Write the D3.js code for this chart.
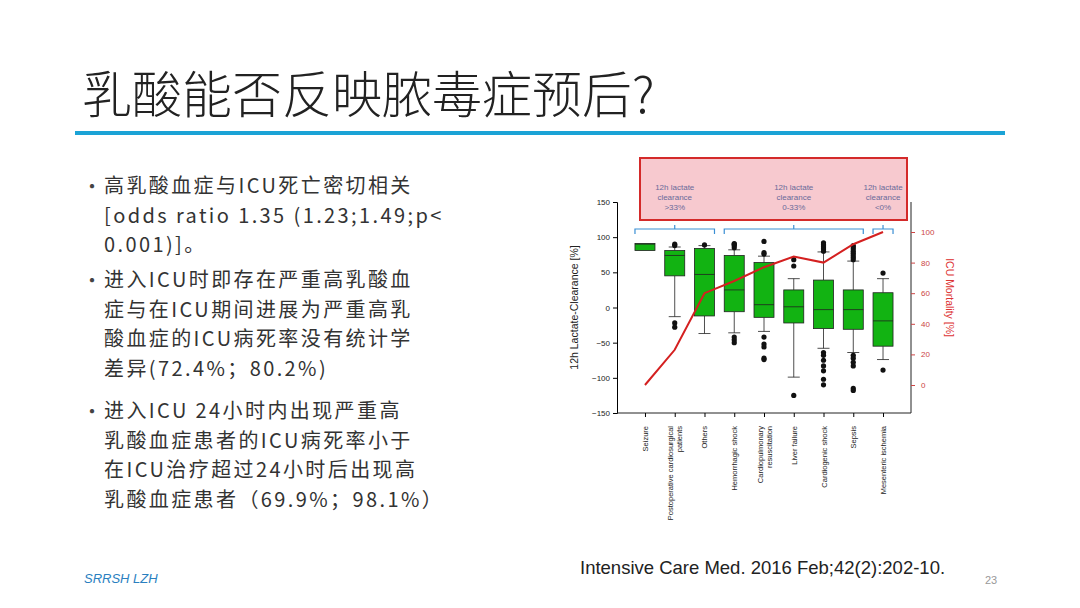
<!DOCTYPE html><html><head><meta charset="utf-8">
<script src="https://cdn.jsdelivr.net/npm/d3@7"></script>
<style>body{margin:0;background:#fff}</style></head><body>
<svg id="s" width="1080" height="608"></svg>
<script>
const categories=["Seizure","Postoperative cardiosurgical|patients","Others","Hemorrhagic shock","Cardiopulmonary|resuscitation","Liver failure","Cardiogenic shock","Sepsis","Mesenteric ischemia"];
const q1=[81,45,-12,-6,-14,-22,-30,-31,-55];
const med=[90,74,47,25,4,1,-3,-3,-19];
const q3=[91,81,84,74,64,25,39,25,21];
const whiskLo=[null,-13,-37,-36,-34,-99,-58,-64,-74];
const whiskHi=[null,86,88,82,73,41,79,66,41];
const outliers=[[],[88,90,-22,-28],[89],[85,88,90,91,-42,-46,-50],[76,78,94,-42,-52,-56,-72,-74],[59,68,-125],[80,83,86,89,92,-64,-68,-75,-83,-90,-102,-110],[68,71,74,77,80,83,86,88,-68,-72,-78,-83,-115,-118],[49,-89]];
const mortality=[0,23,60,68,77,84,80,92,100];
const leftTicks=[-150,-100,-50,0,50,100,150];
const rightTicks=[0,20,40,60,80,100];
const groups=[{t:["12h lactate","clearance",">33%"],a:0,b:2},{t:["12h lactate","clearance","0-33%"],a:3,b:7},{t:["12h lactate","clearance","<0%"],a:8,b:8}];
const bullets=[["高乳酸血症与ICU死亡密切相关","[odds ratio 1.35 (1.23;1.49;p<","0.001)]。"],["进入ICU时即存在严重高乳酸血","症与在ICU期间进展为严重高乳","酸血症的ICU病死率没有统计学","差异(72.4%；80.2%)"],["进入ICU 24小时内出现严重高","乳酸血症患者的ICU病死率小于","在ICU治疗超过24小时后出现高","乳酸血症患者（69.9%；98.1%）"]];

const svg=d3.select("#s");
const F="'Noto Sans CJK SC','Noto Sans',sans-serif";
svg.append("text").attr("x",82).attr("y",113).attr("font-family",F).attr("font-weight",300).attr("font-size",50).attr("fill","#222").text("乳酸能否反映脓毒症预后?");
svg.append("rect").attr("x",75).attr("y",131).attr("width",930).attr("height",4).attr("fill","#1ba3d6");
const starts=[185,279,410];
bullets.forEach((b,i)=>{const y=starts[i];
 svg.append("text").attr("x",82).attr("y",y+9).attr("font-size",20).attr("fill","#444").attr("font-family",F).text("•");
 b.forEach((l,j)=>svg.append("text").attr("x",104).attr("y",y+8+j*29.5).attr("font-family",F).attr("font-size",20).attr("letter-spacing",2.4).attr("fill","#333").text(l));});
svg.append("text").attr("x",84).attr("y",583).attr("font-family","Liberation Sans,Arial").attr("font-style","italic").attr("font-size",13).attr("fill","#2a7fbf").text("SRRSH LZH");
svg.append("text").attr("x",580).attr("y",574).attr("font-family","Liberation Sans,Arial").attr("font-size",18.5).attr("fill","#222").text("Intensive Care Med. 2016 Feb;42(2):202-10.");
svg.append("text").attr("x",985).attr("y",584).attr("font-family","Liberation Sans,Arial").attr("font-size",11).attr("fill","#999").text("23");

const L=617,R=911,T=202,B=413;
const x=d3.scalePoint().domain(categories).range([L,R]).padding(0.94);
const yl=d3.scaleLinear().domain([-150,150]).range([B,T]);
const yr=d3.scaleLinear().domain([0,100]).range([385,232]);
const AF="Liberation Sans,Arial";
svg.append("rect").attr("x",640).attr("y",158).attr("width",267).attr("height",62).attr("fill","#f7c9cf").attr("stroke","#d42a2a").attr("stroke-width",2);
const ax=svg.append("g").attr("transform",`translate(${L},0)`).call(d3.axisLeft(yl).tickValues(leftTicks).tickSize(4));
ax.selectAll("text").attr("font-family",AF).attr("font-size",8).attr("fill","#222");
svg.append("line").attr("x1",L).attr("x2",R).attr("y1",B).attr("y2",B).attr("stroke","#222");
const bx=svg.append("g").attr("transform",`translate(0,${B})`).call(d3.axisBottom(x).tickSize(4).tickFormat(""));
bx.select(".domain").remove();
const ar=svg.append("g").attr("transform",`translate(${R},0)`).call(d3.axisRight(yr).tickValues(rightTicks).tickSize(4));
ar.select(".domain").attr("stroke","#222").attr("d",`M0,${T}V${B}`);
ar.selectAll("line").attr("stroke","#c44");
ar.selectAll("text").attr("font-family",AF).attr("font-size",8).attr("fill","#c44").attr("x",10);
svg.append("text").attr("transform",`translate(578,${(T+B)/2}) rotate(-90)`).attr("text-anchor","middle").attr("font-family",AF).attr("font-size",10.5).attr("fill","#222").text("12h Lactate-Clearance [%]");
svg.append("text").attr("transform",`translate(946,${(T+B)/2-10}) rotate(90)`).attr("text-anchor","middle").attr("font-family",AF).attr("font-size",10.5).attr("fill","#d33").text("ICU Mortality [%]");
categories.forEach((c,i)=>{const parts=c.split("|");
 const t=svg.append("text").attr("transform",`translate(${x(c)},${B+13}) rotate(-90)`).attr("text-anchor","end").attr("font-family",AF).attr("font-size",7.5).attr("fill","#222");
 parts.forEach((p,j)=>t.append("tspan").attr("x",0).attr("y",(j-(parts.length-1)/2)*9+3).text(p));});
const w=20;
categories.forEach((c,i)=>{const cx=x(c),g=svg.append("g");
 if(whiskHi[i]!==null){
  g.append("line").attr("x1",cx).attr("x2",cx).attr("y1",yl(whiskHi[i])).attr("y2",yl(q3[i])).attr("stroke","#222").attr("stroke-width",.8);
  g.append("line").attr("x1",cx).attr("x2",cx).attr("y1",yl(whiskLo[i])).attr("y2",yl(q1[i])).attr("stroke","#222").attr("stroke-width",.8);
  [whiskHi[i],whiskLo[i]].forEach(v=>g.append("line").attr("x1",cx-6).attr("x2",cx+6).attr("y1",yl(v)).attr("y2",yl(v)).attr("stroke","#222").attr("stroke-width",.8));}
 g.append("rect").attr("x",cx-w/2).attr("y",yl(q3[i])).attr("width",w).attr("height",yl(q1[i])-yl(q3[i])).attr("fill","#12b312").attr("stroke","#222").attr("stroke-width",.8);
 g.append("line").attr("x1",cx-w/2).attr("x2",cx+w/2).attr("y1",yl(med[i])).attr("y2",yl(med[i])).attr("stroke","#222").attr("stroke-width",.8);
 outliers[i].forEach(v=>g.append("circle").attr("cx",cx).attr("cy",yl(v)).attr("r",2.6).attr("fill","#111"));});
svg.append("path").datum(mortality).attr("fill","none").attr("stroke","#d42020").attr("stroke-width",2)
 .attr("d",d3.line().x((d,i)=>x(categories[i])).y(d=>yr(d)));
groups.forEach(gp=>{const x0=x(categories[gp.a])-10,x1=x(categories[gp.b])+10,by=229,m=(x0+x1)/2;
 svg.append("path").attr("d",`M${x0},${by+5}V${by}H${x1}V${by+5}M${m},${by}V${by-4}`).attr("fill","none").attr("stroke","#3b8fd4").attr("stroke-width",1.2);
 const t=svg.append("text").attr("text-anchor","middle").attr("font-family",AF).attr("font-size",8).attr("fill","#6a6a9a");
 gp.t.forEach((s,j)=>t.append("tspan").attr("x",m).attr("y",190+j*10).text(s));});
</script></body></html>
